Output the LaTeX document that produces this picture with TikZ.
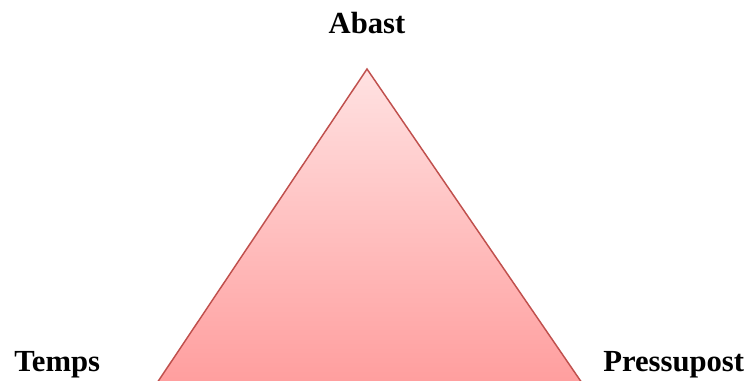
\documentclass[tikz,border=0pt]{standalone}
\usepackage{fontspec}
\setmainfont{Liberation Serif}
\definecolor{topfill}{RGB}{255,226,226}
\definecolor{botfill}{RGB}{255,158,158}
\definecolor{edge}{RGB}{192,80,77}
\tikzset{lbl/.style={font=\fontsize{23}{27}\selectfont\bfseries, inner sep=0pt, text=black}}
\begin{document}
\begin{tikzpicture}[x=0.75pt,y=-0.75pt]
\useasboundingbox (0,0) rectangle (751,381);
\coordinate (apex) at (367,69);
\coordinate (bl) at (157,383);
\coordinate (br) at (582,383);
\shade[top color=topfill, bottom color=botfill, draw=edge, line width=1.1pt, line join=miter] (bl) -- (apex) -- (br);
\node[lbl, anchor=base] (abast) at (367,34) {Abast};
\node[lbl, anchor=base west] (temps) at (14,372) {Temps};
\node[lbl, anchor=base west] (press) at (603,372) {Pressupost};
\end{tikzpicture}
\end{document}
